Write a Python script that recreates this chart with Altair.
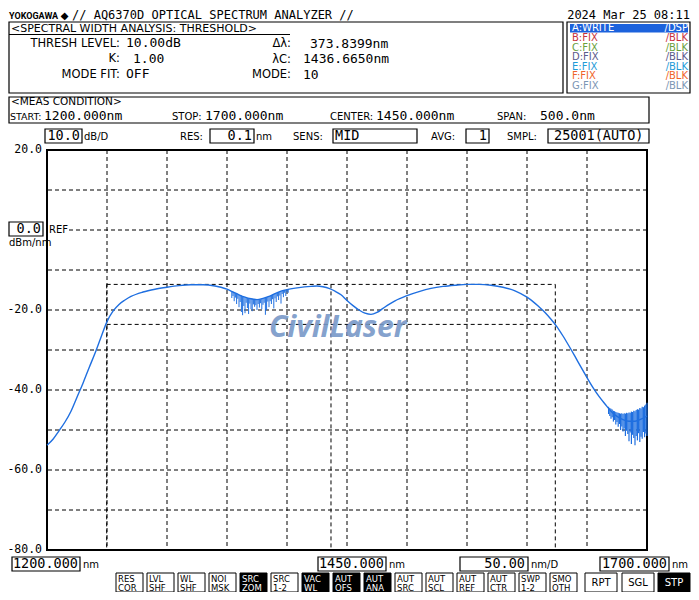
import altair as alt
import pandas as pd

# ---------------- chart values ----------------
wavelength_nm = [1200, 1205, 1210, 1215, 1220, 1225, 1230, 1235, 1240, 1245, 1250, 1255,
                 1260, 1265, 1270, 1280, 1290, 1300, 1310, 1320, 1330, 1340, 1345, 1350,
                 1355, 1360, 1365, 1370, 1375, 1380, 1385, 1390, 1395, 1400, 1410, 1420,
                 1425, 1430, 1435, 1440, 1445, 1450, 1455, 1460, 1465, 1470, 1475, 1480,
                 1485, 1490, 1500, 1510, 1520, 1530, 1540, 1550, 1560, 1570, 1580, 1590,
                 1600, 1605, 1610, 1615, 1620, 1625, 1630, 1635, 1640, 1645, 1650, 1655,
                 1660, 1665, 1670, 1675, 1680, 1685, 1690, 1695, 1700]
power_dbm = [-53.8, -52.3, -50.2, -48.0, -45.3, -41.8, -38.3, -34.5, -30.8, -26.8, -22.9, -20.3,
             -18.6, -17.5, -16.6, -15.5, -14.8, -14.3, -13.9, -13.7, -13.7, -14.0, -14.3, -14.8,
             -15.5, -16.2, -16.8, -17.2, -17.4, -17.1, -16.6, -15.9, -15.3, -14.9, -14.4, -14.1,
             -14.0, -14.2, -14.6, -15.3, -16.2, -17.6, -18.9, -20.0, -20.8, -21.1, -20.6, -19.6,
             -18.6, -17.7, -16.4, -15.4, -14.6, -14.1, -13.8, -13.6, -13.6, -13.8, -14.3, -15.2,
             -16.8, -17.9, -19.2, -20.6, -22.3, -24.2, -26.5, -29.0, -31.6, -34.3, -36.9, -39.4,
             -41.6, -43.5, -45.3, -46.6, -47.4, -47.8, -47.8, -47.3, -46.5]

ripple_nm = [1354, 1355, 1356, 1357, 1358, 1359, 1360, 1361, 1362, 1363, 1364, 1365, 1366, 1367,
             1368, 1369, 1370, 1371, 1372, 1373, 1374, 1375, 1376, 1377, 1378, 1379, 1380, 1381,
             1382, 1383, 1384, 1385, 1386, 1387, 1388, 1389, 1390, 1391, 1392, 1393, 1394, 1395,
             1396, 1397, 1398, 1399, 1400, 1401]
ripple_top = [-15.4, -15.5, -15.6, -15.8, -15.9, -16.0, -16.2, -16.3, -16.4, -16.6, -16.7, -16.8,
              -16.9, -17.0, -17.1, -17.1, -17.2, -17.2, -17.3, -17.3, -17.4, -17.4, -17.4, -17.3,
              -17.3, -17.2, -17.1, -17.0, -16.9, -16.8, -16.7, -16.6, -16.5, -16.3, -16.2, -16.0,
              -15.9, -15.8, -15.6, -15.5, -15.4, -15.3, -15.2, -15.1, -15.0, -15.0, -14.9, -14.9]
ripple_low = [-17.0, -16.5, -17.8, -16.9, -18.5, -17.2, -19.3, -18.0, -20.5, -21.3, -19.0, -20.8,
              -18.2, -19.5, -21.0, -18.4, -19.8, -20.3, -18.6, -19.2, -18.8, -20.0, -18.5, -19.4,
              -18.3, -19.8, -18.7, -18.2, -21.2, -20.0, -17.9, -19.3, -17.8, -18.5, -17.3, -19.6,
              -17.1, -18.0, -16.6, -17.5, -16.4, -18.4, -16.0, -16.8, -15.7, -16.5, -15.5, -15.7]

tail_nm = [1668, 1669, 1670, 1671, 1672, 1673, 1674, 1675, 1676, 1677, 1678, 1679, 1680, 1681,
           1682, 1683, 1684, 1685, 1686, 1687, 1688, 1689, 1690, 1691, 1692, 1693, 1694, 1695,
           1696, 1697, 1698, 1699, 1700]
tail_top = [-44.2, -44.5, -44.7, -44.9, -45.2, -45.3, -45.5, -45.6, -45.7, -45.8, -45.9, -45.8,
            -46.0, -45.8, -45.9, -45.7, -45.8, -45.6, -45.7, -45.4, -45.5, -45.2, -45.3, -45.0,
            -44.8, -44.9, -44.5, -44.6, -44.2, -44.3, -43.9, -43.6, -43.2]
tail_low = [-46.0, -46.5, -47.2, -46.8, -47.9, -47.5, -48.6, -48.0, -49.2, -48.5, -50.0, -49.1,
            -50.4, -49.6, -51.5, -50.2, -51.0, -52.8, -50.6, -53.5, -51.2, -52.0, -53.8, -51.5,
            -52.6, -50.8, -53.0, -51.7, -52.2, -50.5, -51.8, -50.9, -51.5]

grid_nm = [1250, 1300, 1350, 1400, 1450, 1500, 1550, 1600, 1650]
grid_db = [10, 0, -10, -20, -30, -40, -50, -60, -70]
ylabel_db = [20, -20, -40, -60, -80]
ylabel_txt = ["20.0", "-20.0", "-40.0", "-60.0", "-80.0"]

x_start, x_stop = 1200, 1700
y_top, y_bottom = 20, -80
thr_left, thr_center, thr_right = 1249.745, 1436.665, 1623.585
peak_db, thr_db = -13.6, -23.6

# ---------------- screen layout (page pixels) ----------------
OX, OY = 47, 150   # page position of the plot origin
SANS = "DejaVu Sans"
MONO = "DejaVu Sans Mono"
BLUE = "#1f6fe0"

xs = alt.Scale(domain=[x_start, x_stop], nice=False, zero=False)
ys = alt.Scale(domain=[y_bottom, y_top], nice=False, zero=False)


def rects(rows, sw=1.2):
    df = pd.DataFrame(rows, columns=["x1", "y1", "x2", "y2", "f", "s"])
    df[["x1", "x2"]] -= OX
    df[["y1", "y2"]] -= OY
    return alt.Chart(df).mark_rect(strokeWidth=sw).encode(
        x=alt.X("x1:Q", scale=None, axis=None), x2="x2:Q",
        y=alt.Y("y1:Q", scale=None, axis=None), y2="y2:Q",
        fill=alt.Fill("f:N", scale=None, legend=None),
        stroke=alt.Stroke("s:N", scale=None, legend=None))


def texts(rows, font, size, align="left", weight="normal", style="normal",
          baseline="middle", opacity=1.0):
    df = pd.DataFrame(rows, columns=["t", "x", "y", "c"])
    df["x"] -= OX
    df["y"] -= OY
    return alt.Chart(df).mark_text(font=font, fontSize=size, align=align, fontWeight=weight,
                                   fontStyle=style, baseline=baseline, opacity=opacity).encode(
        x=alt.X("x:Q", scale=None, axis=None),
        y=alt.Y("y:Q", scale=None, axis=None),
        text="t:N",
        color=alt.Color("c:N", scale=None, legend=None))


K = "black"
W = "white"

# frames and boxes
box_rows = [
    (9, 22, 563, 93, W, K),
    (567, 22, 690, 93, W, K),
    (9, 97, 649, 123, W, K),
    (45, 129, 82, 143, W, K),
    (210, 129, 254, 143, W, K),
    (333, 129, 417, 143, W, K),
    (466, 129, 489, 143, W, K),
    (548, 129, 649, 143, W, K),
    (9, 222, 43, 236, W, K),
    (12, 557, 80, 571, W, K),
    (318, 557, 386, 571, W, K),
    (460, 557, 528, 571, W, K),
    (600, 557, 669, 571, W, K),
]
fill_rows = [
    (9, 34, 290, 35, K, K),
    (570, 24, 688, 32.5, "#1c62dc", "#1c62dc"),
    (48, 224, 68, 234, W, W),
]

btn_x = [116, 147, 178, 209, 240, 271, 302, 333, 364, 395, 426, 457, 488, 519, 550]
btn_l1 = ["RES", "LVL", "WL", "NOI", "SRC", "SRC", "VAC", "AUT", "AUT", "AUT", "AUT", "AUT",
          "AUT", "SWP", "SMO"]
btn_l2 = ["COR", "SHF", "SHF", "MSK", "ZOM", "1-2", "WL", "OFS", "ANA", "SRC", "SCL", "REF",
          "CTR", "1-2", "OTH"]
btn_dark = [False, False, False, False, True, False, True, True, True, False, False, False,
            False, False, False]
big_btn = [("RPT", 585, 617, False), ("SGL", 622, 654, False), ("STP", 658, 690, True)]

btn_rows = []
btn_txt = []
for bx, a, b, d in zip(btn_x, btn_l1, btn_l2, btn_dark):
    btn_rows.append((bx, 573, bx + 27, 592, K if d else W, K))
    btn_txt.append((a, bx + 2, 578.5, W if d else K))
    btn_txt.append((b, bx + 2, 587.5, W if d else K))
big_txt = []
for t, x1, x2, d in big_btn:
    btn_rows.append((x1, 573, x2, 592, K if d else W, K))
    big_txt.append((t, (x1 + x2) / 2, 583, W if d else K))

# text groups
header_mono = [("// AQ6370D OPTICAL SPECTRUM ANALYZER //", 72, 19.3, K)]
date_txt = [("2024 Mar 25 08:11", 690, 19.3, K)]

panel_title = [("<SPECTRAL WIDTH ANALYSIS: THRESHOLD>", 11, 28.6, K)]
meas_title = [("<MEAS CONDITION>", 11, 101.5, K)]
panel_labels_r = [("THRESH LEVEL:", 120, 43.5, K), ("K:", 120, 59, K),
                  ("MODE FIT:", 120, 74.5, K), ("Δλ:", 291, 44, K), ("λC:", 291, 59.5, K),
                  ("MODE:", 291, 75, K)]
panel_values = [("10.00dB", 126, 43, K), ("1.00", 133, 58.5, K), ("OFF", 126, 74, K),
                ("373.8399nm", 310, 43.5, K), ("1436.6650nm", 303, 59, K), ("10", 303, 74.5, K)]
meas_values = [("1200.000nm", 44, 115.5, K), ("1700.000nm", 205, 115.5, K),
               ("1450.000nm", 376, 115.5, K), ("500.0nm", 540, 115.5, K)]
row_values = [("MID", 335, 136, K), ("25001(AUTO)", 554, 136, K)]
small_labels = [("STOP:", 172, 117, K), ("CENTER:", 330, 117, K),
                ("SPAN:", 497, 117, K), ("dB/D", 84, 137, K), ("RES:", 180, 137, K),
                ("nm", 256, 137, K), ("SENS:", 293, 137, K), ("AVG:", 431, 137, K),
                ("SMPL:", 507, 137, K), ("REF", 49, 229.5, K), ("dBm/nm", 9, 242.5, K),
                ("nm", 83, 565, K), ("nm", 389, 565, K), ("nm/D", 531, 565, K),
                ("nm", 672, 565, K)]
start_label = [("START:", 10, 117, K)]
box_values_r = [("10.0", 80, 136, K), ("0.1", 252, 136, K), ("1", 487, 136, K),
                ("0.0", 41, 229, K), ("1200.000", 78, 564, K), ("1450.000", 384, 564, K),
                ("50.00", 525, 564, K), ("1700.000", 667, 564, K)]

trace_colors = ["#ffffff", "#c8323c", "#6aa03c", "#5c5a8c", "#1e9bd7", "#f0642a", "#7c96b4"]
trace_left = ["A:WRITE", "B:FIX", "C:FIX", "D:FIX", "E:FIX", "F:FIX", "G:FIX"]
trace_right = ["/DSP", "/BLK", "/BLK", "/BLK", "/BLK", "/BLK", "/BLK"]
trace_l = [(t, 572, 28.3 + 9.6 * i, c) for i, (t, c) in enumerate(zip(trace_left, trace_colors))]
trace_r = [(t, 688, 28.3 + 9.6 * i, c) for i, (t, c) in enumerate(zip(trace_right, trace_colors))]

# ---------------- plot layers ----------------
grid_v = alt.Chart(pd.DataFrame({"nm": grid_nm})).mark_rule(
    color=K, strokeDash=[4, 3], strokeWidth=1).encode(x=alt.X("nm:Q", scale=xs, axis=None))
grid_h = alt.Chart(pd.DataFrame({"db": grid_db})).mark_rule(
    color=K, strokeDash=[4, 3], strokeWidth=1).encode(y=alt.Y("db:Q", scale=ys, axis=None))

thr_df = pd.DataFrame({
    "a": [thr_left, thr_center, thr_right, thr_left, thr_left],
    "b": [thr_left, thr_center, thr_right, thr_right, thr_right],
    "c": [peak_db, peak_db, peak_db, peak_db, thr_db],
    "d": [y_bottom, y_bottom, y_bottom, peak_db, thr_db],
})
thr = alt.Chart(thr_df).mark_rule(color=K, strokeDash=[4, 3], strokeWidth=1).encode(
    x=alt.X("a:Q", scale=xs, axis=None), x2="b:Q",
    y=alt.Y("c:Q", scale=ys, axis=None), y2="d:Q")

ylab = alt.Chart(pd.DataFrame({"db": ylabel_db, "t": ylabel_txt})).mark_text(
    font=MONO, fontSize=11.5, align="right", baseline="middle", color=K).encode(
    y=alt.Y("db:Q", scale=ys, axis=None), x=alt.value(-5), text="t:N")

watermark = texts([("CivilLaser", 269, 337, "#7898c8")], "Open Sans", 30, weight="bold",
                  style="italic", baseline="alphabetic", opacity=0.9)

curve = alt.Chart(pd.DataFrame({"nm": wavelength_nm, "db": power_dbm})).mark_line(
    color=BLUE, strokeWidth=1.4, interpolate="monotone").encode(
    x=alt.X("nm:Q", scale=xs, axis=None), y=alt.Y("db:Q", scale=ys, axis=None))

ripple = alt.Chart(pd.DataFrame({"nm": ripple_nm, "top": ripple_top, "low": ripple_low})).mark_rule(
    color=BLUE, strokeWidth=1).encode(
    x=alt.X("nm:Q", scale=xs, axis=None), y=alt.Y("top:Q", scale=ys, axis=None), y2="low:Q")

tail = alt.Chart(pd.DataFrame({"nm": tail_nm, "top": tail_top, "low": tail_low})).mark_rule(
    color=BLUE, strokeWidth=1.2).encode(
    x=alt.X("nm:Q", scale=xs, axis=None), y=alt.Y("top:Q", scale=ys, axis=None), y2="low:Q")

layers = [
    grid_v, grid_h, thr,
    rects(box_rows), rects(fill_rows, sw=0), rects(btn_rows, sw=1),
    watermark,
    curve, ripple, tail,
    ylab,
    texts([("YOKOGAWA", 9, 19, K)], "Roboto", 9, weight="bold", baseline="alphabetic"),
    texts([("◆", 64.5, 19, K)], SANS, 10, align="center", baseline="alphabetic"),
    texts(header_mono, MONO, 12, baseline="alphabetic"),
    texts(date_txt, MONO, 12, align="right", baseline="alphabetic"),
    texts(panel_title, SANS, 11),
    texts(meas_title, SANS, 10.5),
    texts(panel_labels_r, SANS, 11.5, align="right"),
    texts(panel_values, MONO, 13),
    texts(meas_values, MONO, 13),
    texts(row_values, MONO, 13.5),
    texts(small_labels, SANS, 10),
    texts(start_label, SANS, 9.5),
    texts(box_values_r, MONO, 13.5, align="right"),
    texts(trace_l, SANS, 10),
    texts(trace_r, SANS, 10, align="right"),
    texts(btn_txt, SANS, 8.5),
    texts(big_txt, SANS, 10, align="center"),
]

chart = alt.layer(*layers).resolve_scale(
    x="independent", y="independent"
).properties(
    width=600, height=400,
    autosize=alt.AutoSizeParams(type="none"),
    padding={"left": 39, "top": 142, "right": 44, "bottom": 42},
    background="white",
).configure_view(stroke="black", strokeWidth=2)

chart.save("out.html", embed_options={"renderer": "svg", "actions": False})
